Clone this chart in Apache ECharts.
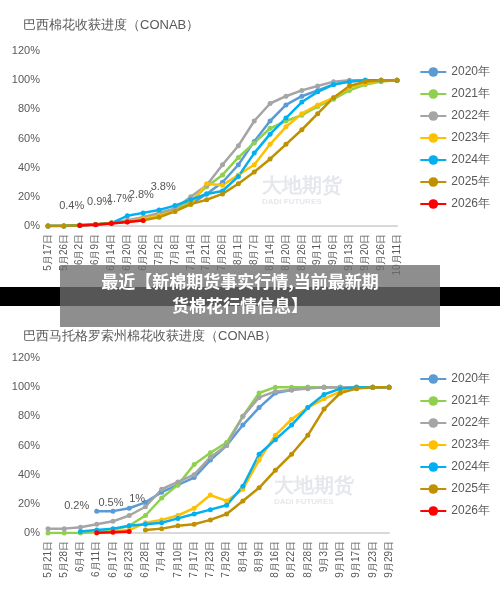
<!DOCTYPE html>
<html><head><meta charset="utf-8">
<script src="https://cdn.jsdelivr.net/npm/echarts@6/dist/echarts.min.js"></script>
<style>html,body{margin:0;padding:0;background:#fff}#c{width:500px;height:593px}</style>
</head><body><div id="c"></div>
<script>
// 巴西棉花收获进度
var catsTop = ['5月17日','5月26日','6月2日','6月9日','6月14日','6月20日','6月26日','7月2日','7月8日','7月14日','7月21日','7月26日','8月1日','8月7日','8月14日','8月20日','8月26日','9月1日','9月6日','9月13日','9月20日','9月26日','10月11日'];
var top2020 = [0,0,0.5,1,2,3,5,8,11,15,22,30,42,58,72,83,89,93,97,99,100,100,100];
var top2021 = [0,0,0.5,1,2,3,5,8,11,17,27,35,47,57,67,72,76,82,87,93,97,99,100];
var top2022 = [0,0,0.5,1,2,4,6,9,12,20,28,42,55,72,84,89,93,96,99,100,100,100,100];
var top2023 = [0,0,0.5,1,2,3,5,7,10,15,29,28,35,42,56,68,77,83,88,95,98,100,100];
var top2024 = [0,0,0.5,1,2,7,9,11,14,18,22,24,34,50,63,74,85,92,97,99,100,100,100];
var top2025 = [0,0,0.5,1,2,3,4,6,10,15,18,22,29,37,46,56,66,77,88,96,99,100,100];
var top2026 = [null,null,0.4,0.9,1.7,2.8,3.8];
// 巴西马托格罗索州棉花收获进度
var catsBot = ['5月21日','5月28日','6月4日','6月11日','6月17日','6月23日','6月28日','7月4日','7月10日','7月17日','7月23日','7月29日','8月4日','8月9日','8月16日','8月22日','8月28日','9月3日','9月10日','9月17日','9月23日','9月29日'];
var bot2020 = [null,null,null,15,15,17,21,28,33,38,50,60,74,86,96,98,100,100,100,100,100,100];
var bot2021 = [0,0,0,0.5,2,5,12,24,33,47,55,62,80,96,100,100,100,100,100,100,100,100];
var bot2022 = [3,3,4,6,8,12,18,30,35,40,52,60,80,93,97,98,99,100,100,100,100,100];
var bot2023 = [null,null,null,0,1,2,7,9,12,17,26,22,30,50,67,78,86,92,97,100,100,100];
var bot2024 = [null,null,1,2,3,5,6,7,10,13,16,19,32,54,64,74,86,95,99,100,100,100];
var bot2025 = [null,null,null,null,null,null,2,3,5,6,9,13,22,31,43,54,67,85,96,99,100,100];
var bot2026 = [null,null,null,0.2,0.5,1];
var years = ['2020年','2021年','2022年','2023年','2024年','2025年','2026年'];
var colors = ['#5b9bd5','#8fd14f','#a5a5a5','#ffc000','#00b0f0','#bf9000','#ff0000'];

var topLabelOff = {2:[-8,-6],3:[4,-10],4:[8,-12],5:[14,-14],6:[20,-20]};
var botLabelOff = {3:[-20,-14],4:[-2,-16],5:[8,-20]};
function redData(arr, offs){
  return arr.map(function(v,i){
    if(v==null) return null;
    return {value:v,label:{show:true,offset:offs[i]||[0,-8],formatter:v+'%',color:'#555',fontSize:11}};
  });
}
var topSets=[top2020,top2021,top2022,top2023,top2024,top2025,redData(top2026,topLabelOff)];
var botSets=[bot2020,bot2021,bot2022,bot2023,bot2024,bot2025,redData(bot2026,botLabelOff)];

var series=[];
function addSeries(sets, idx){
  sets.forEach(function(d,i){
    series.push({name:years[i],type:'line',xAxisIndex:idx,yAxisIndex:idx,data:d,
      symbol:'circle',symbolSize:5,connectNulls:false,
      lineStyle:{width:2.5,color:colors[i]},itemStyle:{color:colors[i]},z:i==6?10:2});
  });
}
addSeries(topSets,0); addSeries(botSets,1);

function xAx(cats,gi){
  return {type:'category',gridIndex:gi,data:cats,boundaryGap:false,
    axisLine:{lineStyle:{color:'#d9d9d9',width:2}},axisTick:{show:false},
    axisLabel:{rotate:90,interval:0,fontSize:10,color:'#595959'}};
}
function yAx(gi){
  return {type:'value',gridIndex:gi,min:0,max:120,interval:20,
    axisLabel:{formatter:'{value}%',fontSize:11,color:'#595959'},splitLine:{show:false},axisLine:{show:false}};
}
function legend(top){
  return {orient:'vertical',right:5,top:top,itemGap:10,itemWidth:26,itemHeight:12,
    textStyle:{fontSize:12,color:'#595959'},data:years};
}
var chart=echarts.init(document.getElementById('c'));
chart.setOption({
  backgroundColor:'#fff',animation:false,
  title:[{text:'巴西棉花收获进度（CONAB）',left:18,top:14,textStyle:{fontSize:13,fontWeight:'normal',color:'#595959'}},
         {text:'巴西马托格罗索州棉花收获进度（CONAB）',left:18,top:325,textStyle:{fontSize:13,fontWeight:'normal',color:'#595959'}}],
  legend:[legend(61),legend(368)],
  grid:[{left:48,top:51,width:349,height:175},{left:48,top:358,width:341,height:175}],
  xAxis:[xAx(catsTop,0),xAx(catsBot,1)],
  yAxis:[yAx(0),yAx(1)],
  series:series,
  graphic:[
    {type:'text',left:262,top:176,z:1,style:{text:'大地期货',fontSize:20,fontWeight:'bold',fill:'rgba(150,160,180,0.25)'}},
    {type:'text',left:262,top:198,z:1,style:{text:'DADI FUTURES',fontSize:8,fontWeight:'bold',fill:'rgba(150,160,180,0.25)'}},
    {type:'text',left:274,top:476,z:1,style:{text:'大地期货',fontSize:20,fontWeight:'bold',fill:'rgba(150,160,180,0.25)'}},
    {type:'text',left:274,top:498,z:1,style:{text:'DADI FUTURES',fontSize:8,fontWeight:'bold',fill:'rgba(150,160,180,0.25)'}},
    {type:'rect',left:0,top:287,z:100,shape:{width:500,height:19},style:{fill:'#000'}},
    {type:'rect',left:60,top:265,z:101,shape:{width:380,height:62},style:{fill:'rgba(110,110,110,0.78)'}},
    {type:'text',x:240,y:270,z:102,style:{text:'最近【新棉期货事实行情,当前最新期\n货棉花行情信息】',
      fontSize:17,fontWeight:'bold',fill:'#fff',lineHeight:24,align:'center',
      fontFamily:'Noto Sans CJK SC'}}
  ]
});
</script></body></html>
